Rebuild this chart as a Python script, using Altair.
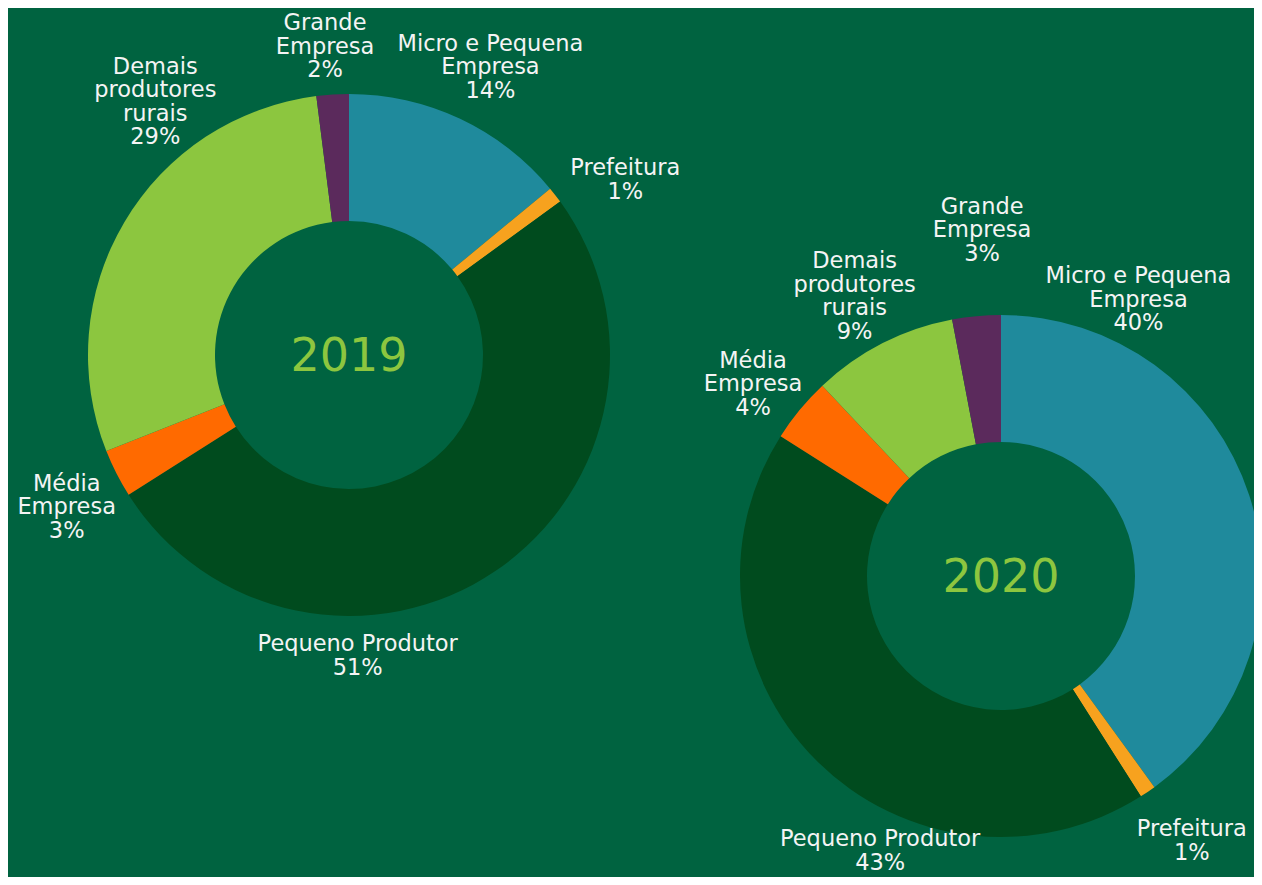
import altair as alt
import pandas as pd

# ---- data ----
years = ["2019", "2020"]
categories = ["Micro e Pequena Empresa", "Prefeitura", "Pequeno Produtor",
              "Média Empresa", "Demais produtores rurais", "Grande Empresa"]
label_lines = ["Micro e Pequena\nEmpresa", "Prefeitura", "Pequeno Produtor",
               "Média\nEmpresa", "Demais\nprodutores\nrurais", "Grande\nEmpresa"]
values_2019 = [14, 1, 51, 3, 29, 2]
values_2020 = [40, 1, 43, 4, 9, 3]

colors = ["#1f8a9c", "#f7a21e", "#004b1e", "#ff6a00", "#8cc63f", "#5b2a5c"]
BG = "#006340"

rows = []
for yr, vals in zip(years, [values_2019, values_2020]):
    for i, (cat, lab, v) in enumerate(zip(categories, label_lines, vals)):
        rows.append({"year": yr, "category": cat, "pct": v, "order": i,
                     "label": f"{lab}\n{v}%"})
df = pd.DataFrame(rows)
df_years = pd.DataFrame({"year": years})

# ---- layout (pixels) ----
centers = {"2019": (341, 347), "2020": (993, 568)}
INNER, OUTER, LABEL_R = 134, 261, 318
FS, LH = 22.5, 23.5
# small nudges of each label (block centre) from its radial anchor
nudges = {
    "2019": {"Micro e Pequena Empresa": (6, 0), "Prefeitura": (25, 20),
             "Pequeno Produtor": (-170, 38), "Média Empresa": (1, 8),
             "Demais produtores rurais": (80, -91), "Grande Empresa": (-4, 9)},
    "2020": {"Micro e Pequena Empresa": (-165, -178), "Prefeitura": (12, 2),
             "Pequeno Produtor": (104, 50), "Média Empresa": (-3, 11),
             "Demais produtores rurais": (-2, 4), "Grande Empresa": (11, -29)},
}
n_lines = {cat: lab.count("\n") + 2 for cat, lab in zip(categories, label_lines)}

color_scale = alt.Scale(domain=categories, range=colors)
theta_scale = alt.Scale(domain=[0, 100])

base = alt.Chart(df)
layers = []
for yr in years:
    cx, cy = centers[yr]
    arc = base.transform_filter(alt.datum.year == yr).mark_arc(
        innerRadius=INNER, outerRadius=OUTER, strokeWidth=0
    ).encode(
        theta=alt.Theta("pct:Q", stack=True, scale=theta_scale),
        color=alt.Color("category:N", scale=color_scale, legend=None),
        order=alt.Order("order:Q"),
        x=alt.value(cx), y=alt.value(cy),
    )
    layers.append(arc)

    year_txt = alt.Chart(df_years).transform_filter(alt.datum.year == yr).mark_text(
        font="DejaVu Sans", fontSize=46, color="#8dc63f", align="center",
        baseline="middle", dy=2
    ).encode(text="year:N", x=alt.value(cx), y=alt.value(cy))
    layers.append(year_txt)

    for cat in categories:
        ddx, ddy = nudges[yr][cat]
        ddy = ddy - (n_lines[cat] - 1) * LH / 2
        lbl = base.transform_window(
            cum="sum(pct)", groupby=["year"], sort=[alt.SortField("order")]
        ).transform_calculate(
            mid="datum.cum - datum.pct / 2"
        ).transform_filter(
            (alt.datum.year == yr) & (alt.datum.category == cat)
        ).mark_text(
            radius=LABEL_R, dx=ddx, dy=ddy, font="DejaVu Sans", fontSize=FS,
            lineHeight=LH, lineBreak="\n", color="#f4f4f4",
            align="center", baseline="middle"
        ).encode(
            theta=alt.Theta("mid:Q", stack=False, scale=theta_scale),
            text="label:N",
            x=alt.value(cx), y=alt.value(cy),
        )
        layers.append(lbl)

chart = alt.layer(*layers).properties(
    width=1246, height=869, background=BG, padding=0, autosize="none"
).configure_view(strokeWidth=0)

chart.save("out.html", embed_options={"renderer": "svg", "actions": False})
